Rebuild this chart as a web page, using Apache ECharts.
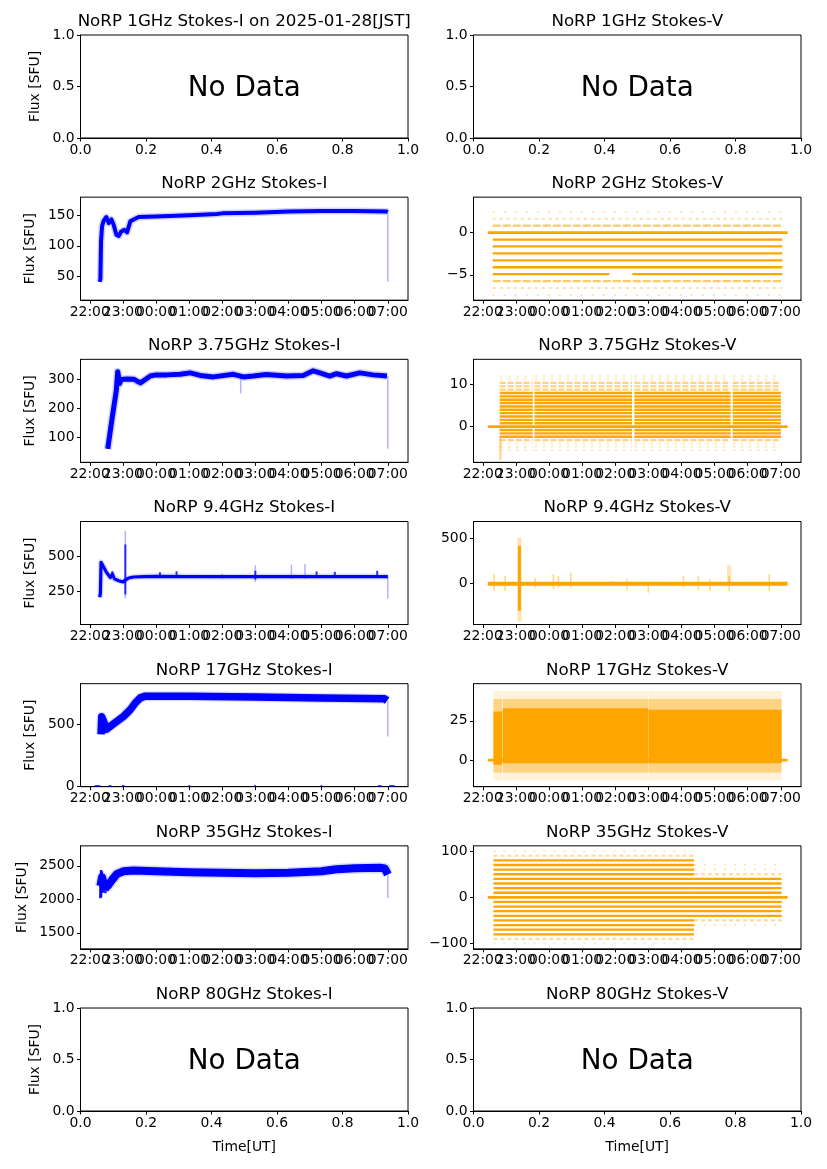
<!DOCTYPE html>
<html><head><meta charset="utf-8">
<script src="https://cdn.jsdelivr.net/npm/echarts/dist/echarts.min.js"></script>
<style>html,body{margin:0;padding:0;background:#fff}#c{width:827px;height:1169px}</style>
</head><body><div id="c"></div>
<script>
// ---------------- ticks / labels ----------------
const timeTicks = [-2,-1,0,1,2,3,4,5,6,7];           // hours from 00:00 UT
const timeTickLabels = ['22:00','23:00','00:00','01:00','02:00','03:00','04:00','05:00','06:00','07:00'];
const timeRange = [-2.28, 7.61];
const unitXTicks = [0,0.2,0.4,0.6,0.8,1.0];
const unitYTicks = [0,0.5,1.0];

const panelTitles = [
 'NoRP 1GHz Stokes-I on 2025-01-28[JST]','NoRP 1GHz Stokes-V',
 'NoRP 2GHz Stokes-I','NoRP 2GHz Stokes-V',
 'NoRP 3.75GHz Stokes-I','NoRP 3.75GHz Stokes-V',
 'NoRP 9.4GHz Stokes-I','NoRP 9.4GHz Stokes-V',
 'NoRP 17GHz Stokes-I','NoRP 17GHz Stokes-V',
 'NoRP 35GHz Stokes-I','NoRP 35GHz Stokes-V',
 'NoRP 80GHz Stokes-I','NoRP 80GHz Stokes-V'];
const panelHasData = [false,false,true,true,true,true,true,true,true,true,true,true,false,false];
const yRanges = [[0,1],[0,1],[11,179.5],[-8,4.2],[12,370],[-8.5,16],[19,741],[-452,689],[0,826],[-17,48.7],[1261,2798],[-112,112],[0,1],[0,1]];
const yTicks = [unitYTicks,unitYTicks,[50,100,150],[-5,0],[100,200,300],[0,10],[250,500],[0,500],[0,500],[0,25],[1500,2000,2500],[-100,0,100],unitYTicks,unitYTicks];

// ---------------- Stokes-I data: [time(h), flux] ----------------
const i2Band = [[-1.699,41],[-1.679,46],[-1.659,108],[-1.629,132],[-1.578,141],[-1.498,147],[-1.428,137],[-1.347,143],[-1.277,134],[-1.197,118],[-1.127,116],[-1.056,123],[-0.956,126],[-0.876,122],[-0.775,140],[-0.675,143],[-0.524,147],[0,148],[1.0,150],[1.84,152],[2.0,153],[3.0,154],[4.0,156],[5.0,157],[6.0,157],[6.96,156],[7.0,155]];
const i2Spikes = [[7.0,41,155]];

const i375Band = [[-1.458,59],[-1.317,172],[-1.197,263],[-1.157,327],[-1.127,330],[-1.096,286],[-1.056,300],[-0.876,302],[-0.675,301],[-0.474,288],[-0.323,300],[-0.173,312],[0,316],[0.331,316],[0.731,318],[1.032,323],[1.333,314],[1.735,309],[2.337,318],[2.639,309],[2.94,312],[3.333,317],[3.944,312],[4.446,314],[4.747,330],[4.948,323],[5.249,312],[5.45,320],[5.751,312],[6.153,323],[6.554,316],[6.976,312]];
const i375Spikes = [[2.558,251,310],[7.0,59,312]];

const i94Band = [[-1.699,210],[-1.679,240],[-1.659,455],[-1.629,452],[-1.578,420],[-1.498,385],[-1.378,348],[-1.317,372],[-1.257,340],[-1.127,326],[-0.996,318],[-0.926,330],[-0.825,345],[-0.675,352],[-0.373,355],[0,357],[1,355],[2,354],[3,355],[4,355],[5,355],[6,355],[7.0,355]];
const i94Bursts = [[-1.317,345,392],[0.12,345,385],[0.62,345,392],[3.0,335,395],[4.85,345,390],[5.40,345,388],[6.68,345,395],[-0.926,230,580]];
const i94Faint = [[-0.926,203,675],[3.0,316,434],[4.09,340,439],[4.5,340,443],[2.0,340,375],[7.0,200,355]];

const i17Band = [[-1.659,420],[-1.639,560],[-1.618,575],[-1.578,520],[-1.498,460],[-1.378,484],[-1.177,524],[-0.976,565],[-0.775,618],[-0.624,672],[-0.474,712],[-0.323,726],[0,726],[1,726],[3,720],[5,712],[6.35,708],[6.9,705],[6.98,690]];
const i17Spikes = [[7.0,403,690]];
const i17ZeroMarks = [[-1.849,-1.679,0],[-1.428,-1.347,0],[-1.026,-0.946,0],[0.98,1.03,0],[2.97,3.02,0],[4.97,5.02,0],[6.70,6.81,0],[7.04,7.21,0]];

const i35Band = [[-1.679,2200],[-1.629,2330],[-1.558,2200],[-1.458,2200],[-1.327,2290],[-1.177,2380],[-0.976,2420],[-0.675,2430],[0,2420],[1,2405],[2,2395],[3,2390],[4,2395],[5,2420],[5.45,2450],[6,2465],[6.76,2470],[6.91,2460],[6.96,2410],[7.0,2370]];
const i35Noise = [[-1.679,2015,2300],[-1.659,2030,2436],[-1.639,2100,2420],[-1.598,2100,2330],[-1.528,2090,2280],[-1.458,2120,2290],[-1.378,2180,2320]];
const i35Spikes = [[7.0,2015,2370]];

// ---------------- Stokes-V data ----------------
const vZeroSpan = [-1.849, 7.205];

const v2Span = [-1.698, 7.044];
const v2LevelsSolid = [-0.82,-1.64,-2.46,-3.28,-4.10];
const v2GapLevel = [[-1.698,1.823,-4.92],[2.517,7.044,-4.92]];
const v2LevelsMid = [0.82,-5.74];
const v2LevelsFaint = [1.64,-6.56];
const v2LevelsRare = [2.46,-7.38];

const v375Blocks = [[-1.49,-0.49],[-0.44,2.507],[2.578,5.485],[5.545,7.004]];
const v375LevelsSolid = [-2.4,-1.6,-0.8,0.8,1.6,2.4,3.2,4.0,4.8,5.6,6.4,7.2,8.0];
const v375LevelsMid = [8.8,9.6,10.4,-3.2];
const v375LevelsFaint = [11.2,12.0,-4.0,-4.8,-5.6];
const v375EarlyTail = [[-1.47,-8,-2.4]];

const v94Bursts = [[-1.658,-81,104],[-1.326,-81,85],[-0.42,-44,67],[0.133,-63,104],[0.284,-44,85],[0.656,-44,122],[1.89,-26,30],[2.35,-63,48],[3.0,-100,11],[4.06,-44,85],[4.51,-63,85],[4.86,-81,48],[5.44,-81,85],[6.65,-81,104]];
const v94FlareCore = [[-0.893,-300,420]];
const v94FlareHalo = [[-0.893,-420,510],[5.44,0,204]];

const v17Core = [[-1.678,-1.415,-3,31],[-1.398,2.995,-2,33],[3.005,7.024,-2,32]];
const v17Halo = [[-1.678,-1.415,-8,39],[-1.398,2.995,-8,39],[3.005,7.024,-8,39]];
const v17Outer = [[-1.678,-1.415,-13,44],[-1.398,2.995,-13,44],[3.005,7.024,-13,44]];

const v35SpanA = [-1.678, 4.378];
const v35SpanB = [4.378, 7.024];
const v35LevelsSolidA = [80.4,70.35,60.3,50.25,40.2,30.15,20.1,10.05,-10.05,-20.1,-30.15,-40.2,-50.25,-60.3,-70.35,-80.4];
const v35LevelsMidA = [90.45,-90.45];
const v35LevelsFaintA = [100.5,-100.5];
const v35LevelsSolidB = [40.2,30.15,20.1,10.05,-10.05,-20.1,-30.15,-40.2];
const v35LevelsMidB = [50.25,-50.25];
const v35LevelsFaintB = [60.3,-60.3,70.35];

// ---------------- layout & styles ----------------
const BLUE = '#0000ff', ORANGE = '#ffa500';
const FONT = '"DejaVu Sans", "Noto Sans", sans-serif';
const GRID_LEFT = [80.5, 473.5], GRID_W = 327.5, GRID_TOP0 = 35, ROW_STEP = 162.17, GRID_H = 103;

function minus(s){ return String(s).replace('-', '\u2212'); }
function base(p, z){ return {xAxisIndex:2*p, yAxisIndex:p, silent:true, animation:false, clip:true, z:z||2}; }
function lineSeries(p, data, width, color, opacity, z){
  return Object.assign(base(p,z), {type:'line', data:data, symbol:'none', showSymbol:false,
    lineStyle:{color:color, width:width, opacity:opacity, cap:'butt', join:'round'}});
}
function spanSeries(p, data, width, color, opacity, z){
  return Object.assign(base(p,z), {type:'custom', coordinateSystem:'cartesian2d', data:data, encode:{x:0, y:[1,2]},
    renderItem:function(params, api){
      const a = api.coord([api.value(0), api.value(1)]), b = api.coord([api.value(0), api.value(2)]);
      return {type:'line', shape:{x1:a[0],y1:a[1],x2:b[0],y2:b[1]}, style:{stroke:color, lineWidth:width, opacity:opacity}};
    }});
}
function hsegSeries(p, data, width, color, opacity, dash, z){
  return Object.assign(base(p,z), {type:'custom', coordinateSystem:'cartesian2d', data:data, encode:{x:[0,1], y:2},
    renderItem:function(params, api){
      const a = api.coord([api.value(0), api.value(2)]), b = api.coord([api.value(1), api.value(2)]);
      const st = {stroke:color, lineWidth:width, opacity:opacity};
      if (dash) st.lineDash = dash;
      return {type:'line', shape:{x1:a[0],y1:a[1],x2:b[0],y2:b[1]}, style:st};
    }});
}
function rectSeries(p, data, color, opacity, z){
  return Object.assign(base(p,z), {type:'custom', coordinateSystem:'cartesian2d', data:data, encode:{x:[0,1], y:[2,3]},
    renderItem:function(params, api){
      const a = api.coord([api.value(0), api.value(3)]), b = api.coord([api.value(1), api.value(2)]);
      return {type:'rect', shape:{x:a[0], y:a[1], width:b[0]-a[0], height:b[1]-a[1]}, style:{fill:color, opacity:opacity}};
    }});
}
function levelsAt(span, levels){ return levels.map(v => [span[0], span[1], v]); }
function blocksAt(blocks, levels){ const out=[]; blocks.forEach(b => levels.forEach(v => out.push([b[0], b[1], v]))); return out; }

function timeLabel(v){ return timeTickLabels[timeTicks.indexOf(Math.round(v))]; }
function unitLabel(v){ return v.toFixed(1); }
function xAxisDef(p, ticks, labelTicks, has, showLine){
  return {type:'value', gridIndex:p, min: has?timeRange[0]:0, max: has?timeRange[1]:1, position:'bottom',
    axisLine:{show:showLine, onZero:false, lineStyle:{color:'#000', width:1}},
    axisTick:{show:showLine, length:3.5, customValues:ticks, lineStyle:{color:'#000', width:1}},
    axisLabel:{show:labelTicks.length>0, customValues:labelTicks, margin:5, color:'#000', fontSize:13.9, fontFamily:FONT,
      showMinLabel:true, showMaxLabel:true, hideOverlap:false, formatter: has ? timeLabel : unitLabel},
    splitLine:{show:false}};
}

const grids=[], xAxes=[], yAxes=[], series=[], graphics=[];
for (let p=0; p<14; p++){
  const r = Math.floor(p/2), c = p%2;
  const top = GRID_TOP0 + r*ROW_STEP, left = GRID_LEFT[c];
  const has = panelHasData[p];
  grids.push({left:left, top:top, width:GRID_W, height:GRID_H, show:true, borderColor:'#000', borderWidth:1, backgroundColor:'transparent'});
  const xt = has ? timeTicks : unitXTicks;
  // labels split across two coincident axes so that neighbouring (overlapping) labels are all kept
  const evenLabels = has ? timeTicks.filter((v,i)=>i%2===0) : unitXTicks;
  const oddLabels = has ? timeTicks.filter((v,i)=>i%2===1) : [];
  xAxes.push(xAxisDef(p, xt, evenLabels, has, true));
  xAxes.push(xAxisDef(p, xt, oddLabels.length?oddLabels:[0], has, false));
  if (!oddLabels.length) xAxes[xAxes.length-1].axisLabel.show = false;
  const yt = yTicks[p];
  yAxes.push({type:'value', gridIndex:p, min:yRanges[p][0], max:yRanges[p][1], position:'left',
    axisLine:{show:true, onZero:false, lineStyle:{color:'#000', width:1}},
    axisTick:{show:true, length:3.5, customValues:yt, lineStyle:{color:'#000', width:1}},
    axisLabel:{show:true, customValues:yt, margin:6, color:'#000', fontSize:13.9, fontFamily:FONT,
      showMinLabel:true, showMaxLabel:true, hideOverlap:false,
      formatter: has ? function(v){ return minus(v); } : unitLabel},
    splitLine:{show:false}});
  graphics.push({type:'text', x:left+GRID_W/2, y:top-13.5, z:100,
    style:{text:panelTitles[p], font:'16.7px '+FONT, fill:'#000', textAlign:'center', textVerticalAlign:'middle', align:'center', verticalAlign:'middle'}});
  if (!has){
    graphics.push({type:'text', x:left+GRID_W/2, y:top+GRID_H/2+2, z:100,
      style:{text:'No Data', font:'27.8px '+FONT, fill:'#000', textAlign:'center', textVerticalAlign:'middle', align:'center', verticalAlign:'middle'}});
  }
  if (c===0){
    const lx = (p===0||p===12) ? 35 : (p===10 ? 22 : 30);
    graphics.push({type:'text', x:lx, y:top+GRID_H/2, rotation:Math.PI/2, z:100,
      style:{text:'Flux [SFU]', font:'13.9px '+FONT, fill:'#000', textAlign:'center', textVerticalAlign:'middle', align:'center', verticalAlign:'middle'}});
  }
  if (r===6){
    graphics.push({type:'text', x:left+GRID_W/2, y:1147, z:100,
      style:{text:'Time[UT]', font:'13.9px '+FONT, fill:'#000', textAlign:'center', textVerticalAlign:'middle', align:'center', verticalAlign:'middle'}});
  }
}

// ---- 2 GHz ----
series.push(lineSeries(2, i2Band, 7, BLUE, 0.18));
series.push(lineSeries(2, i2Band, 4, BLUE, 1, 3));
series.push(spanSeries(2, i2Spikes, 1.5, BLUE, 0.3));
series.push(hsegSeries(3, levelsAt(v2Span, v2LevelsRare), 2, ORANGE, 0.3, [2,9]));
series.push(hsegSeries(3, levelsAt(v2Span, v2LevelsFaint), 2, ORANGE, 0.35, [3,4]));
series.push(hsegSeries(3, levelsAt(v2Span, v2LevelsMid), 2.2, ORANGE, 0.6, [8,2]));
series.push(hsegSeries(3, levelsAt(v2Span, v2LevelsSolid).concat(v2GapLevel), 2.3, ORANGE, 1));
series.push(hsegSeries(3, [[vZeroSpan[0], vZeroSpan[1], 0]], 2.8, ORANGE, 1));

// ---- 3.75 GHz ----
series.push(lineSeries(4, i375Band, 8, BLUE, 0.18));
series.push(lineSeries(4, i375Band, 5, BLUE, 1, 3));
series.push(spanSeries(4, i375Spikes, 1.5, BLUE, 0.3));
series.push(hsegSeries(5, blocksAt(v375Blocks, v375LevelsFaint), 2, ORANGE, 0.22, [3,5]));
series.push(hsegSeries(5, blocksAt(v375Blocks, v375LevelsMid), 2.2, ORANGE, 0.5, [6,2]));
series.push(hsegSeries(5, blocksAt(v375Blocks, v375LevelsSolid), 2.4, ORANGE, 1));
series.push(spanSeries(5, v375EarlyTail, 2.5, ORANGE, 0.4));
series.push(hsegSeries(5, [[vZeroSpan[0], vZeroSpan[1], 0]], 2.8, ORANGE, 1));

// ---- 9.4 GHz ----
series.push(lineSeries(6, i94Band, 6, BLUE, 0.15));
series.push(lineSeries(6, i94Band, 3.2, BLUE, 1, 3));
series.push(spanSeries(6, i94Faint, 1.5, BLUE, 0.3));
series.push(spanSeries(6, i94Bursts, 2, BLUE, 0.8, 3));
series.push(spanSeries(7, v94FlareHalo, 4, ORANGE, 0.3));
series.push(spanSeries(7, v94Bursts, 1.6, ORANGE, 0.45));
series.push(spanSeries(7, v94FlareCore, 3, ORANGE, 1));
series.push(hsegSeries(7, [[vZeroSpan[0], vZeroSpan[1], 0]], 4, ORANGE, 1));

// ---- 17 GHz ----
series.push(lineSeries(8, i17Band, 10, BLUE, 0.15));
series.push(lineSeries(8, i17Band, 7.5, BLUE, 1, 3));
series.push(spanSeries(8, i17Spikes, 1.5, BLUE, 0.3));
series.push(hsegSeries(8, i17ZeroMarks, 3, BLUE, 1));
series.push(rectSeries(9, v17Outer, ORANGE, 0.15));
series.push(rectSeries(9, v17Halo, ORANGE, 0.4));
series.push(rectSeries(9, v17Core, ORANGE, 1));
series.push(hsegSeries(9, [[vZeroSpan[0], vZeroSpan[1], 0]], 2.8, ORANGE, 1));

// ---- 35 GHz ----
series.push(spanSeries(10, i35Noise, 2.5, BLUE, 0.9));
series.push(lineSeries(10, i35Band, 11, BLUE, 0.15));
series.push(lineSeries(10, i35Band, 8, BLUE, 1, 3));
series.push(spanSeries(10, i35Spikes, 1.5, BLUE, 0.3));
series.push(hsegSeries(11, levelsAt(v35SpanA, v35LevelsFaintA).concat(levelsAt(v35SpanB, v35LevelsFaintB)), 2, ORANGE, 0.25, [2,8]));
series.push(hsegSeries(11, levelsAt(v35SpanA, v35LevelsMidA).concat(levelsAt(v35SpanB, v35LevelsMidB)), 2.2, ORANGE, 0.4, [4,3]));
series.push(hsegSeries(11, levelsAt(v35SpanA, v35LevelsSolidA).concat(levelsAt(v35SpanB, v35LevelsSolidB)), 2.3, ORANGE, 1));
series.push(hsegSeries(11, [[vZeroSpan[0], vZeroSpan[1], 0]], 2.8, ORANGE, 1));

const chart = echarts.init(document.getElementById('c'), null, {renderer:'canvas', width:827, height:1169});
chart.setOption({backgroundColor:'#fff', animation:false, textStyle:{fontFamily:FONT},
  grid:grids, xAxis:xAxes, yAxis:yAxes, series:series, graphic:graphics});
</script></body></html>
